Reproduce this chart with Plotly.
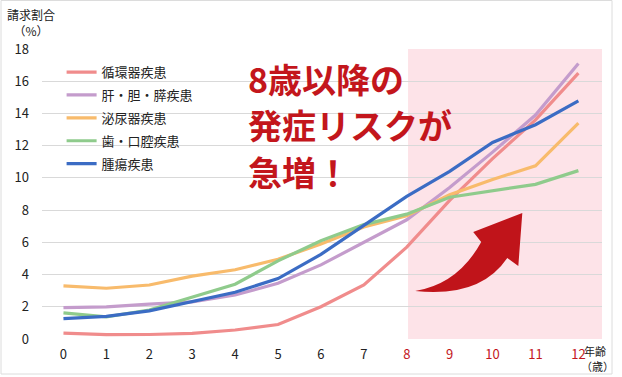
import plotly.graph_objects as go

ages = list(range(13))
age_labels = [str(a) for a in ages]

circulatory = [0.37, 0.27, 0.28, 0.35, 0.56, 0.9, 2.0, 3.35, 5.7, 8.6, 11.2, 13.6, 16.5]
liver = [1.95, 2.0, 2.17, 2.3, 2.73, 3.46, 4.6, 6.0, 7.4, 9.4, 11.6, 13.9, 17.1]
urinary = [3.3, 3.15, 3.35, 3.9, 4.3, 4.95, 5.9, 6.95, 7.65, 8.95, 9.9, 10.75, 13.4]
dental = [1.62, 1.38, 1.8, 2.62, 3.4, 4.85, 6.1, 7.1, 7.75, 8.8, 9.2, 9.6, 10.45]
tumor = [1.26, 1.4, 1.75, 2.32, 2.9, 3.75, 5.25, 7.05, 8.85, 10.4, 12.2, 13.3, 14.78]

series_names = ["循環器疾患", "肝・胆・膵疾患", "泌尿器疾患", "歯・口腔疾患", "腫瘍疾患"]
series_values = [circulatory, liver, urinary, dental, tumor]
series_colors = ["#f08c8c", "#c49ccc", "#f8bb6c", "#8fcb8c", "#3b6cc4"]

y_ticks = list(range(0, 19, 2))

RED = "#c3161c"
FONT = "Noto Sans CJK JP"

fig = go.Figure()
for i, (name, vals, col) in enumerate(zip(series_names, series_values, series_colors)):
    fig.add_trace(go.Scatter(
        x=ages, y=vals, name=name, mode="lines",
        line=dict(color=col, width=3.2),
        legendgroup=f"g{i}",
    ))

# highlighted region from age 8
fig.add_shape(type="rect", xref="x", yref="y", x0=8.03, x1=12.55, y0=0, y1=18,
              fillcolor="#fde3e8", line_width=0, layer="below")

# curved arrow
arrow_path = ("M 8.195,2.979 Q 9.198,3.414 9.735,6.021 L 9.549,6.641 L 10.693,7.821 "
              "L 10.600,4.531 L 10.343,5.028 Q 9.712,2.545 8.195,2.979 Z")
fig.add_shape(type="path", xref="x", yref="y", path=arrow_path,
              fillcolor="#c0141a", line_width=0, layer="above")

# frame
fig.add_shape(type="rect", xref="paper", yref="paper",
              x0=-41/560, x1=(612-42)/560, y0=(339-374)/290, y1=(339-0.5)/290,
              line=dict(color="#dcdcdc", width=1), fillcolor="rgba(0,0,0,0)", layer="below")

tick_text = [a if int(a) < 8 else f'<span style="color:{RED}">{a}</span>' for a in age_labels]

fig.update_layout(
    width=622, height=377,
    margin=dict(l=42, r=20, t=49, b=38),
    paper_bgcolor="white", plot_bgcolor="white",
    font=dict(family=FONT, color="#222", size=13),
    showlegend=True,
    legend=dict(x=0.035, y=0.972, xanchor="left", yanchor="top",
                bgcolor="rgba(0,0,0,0)", font=dict(size=13, family=FONT, color="#222"),
                tracegroupgap=3, traceorder="grouped", itemwidth=30),
    xaxis=dict(range=[-0.5, 12.55], tickvals=ages, ticktext=tick_text,
               showgrid=False, zeroline=False, showline=False,
               tickfont=dict(size=13, family=FONT), ticks="", ticklabelstandoff=6),
    yaxis=dict(range=[0, 18], tickvals=y_ticks, showgrid=True, gridcolor="#d9d9d9",
               gridwidth=1, zeroline=False, showline=False, ticks="",
               tickfont=dict(size=13, family=FONT), ticklabelstandoff=12),
)

# y-axis title
fig.add_annotation(xref="paper", yref="paper", x=-37/560, y=(339-4)/290,
                   xanchor="left", yanchor="top", showarrow=False, align="center",
                   text="請求割合<br>（%）", font=dict(size=12, family=FONT, color="#222"))
# x-axis title (two lines)
fig.add_annotation(xref="paper", yref="paper", x=(595-42)/560, y=(339-351)/290,
                   xanchor="center", yanchor="middle", showarrow=False,
                   text="年齢", font=dict(size=11, family=FONT, color="#222"))
fig.add_annotation(xref="paper", yref="paper", x=(597-42)/560, y=(339-366)/290,
                   xanchor="center", yanchor="middle", showarrow=False,
                   text="（歳）", font=dict(size=11, family=FONT, color="#222"))

# headline text
for txt, yc in [("8歳以降の", 16.2), ("発症リスクが", 13.3), ("急増！", 10.37)]:
    fig.add_annotation(xref="x", yref="y", x=(246-64)/42.833, y=yc,
                       xanchor="left", yanchor="middle", showarrow=False,
                       text=f"<b>{txt}</b>", font=dict(size=34, family=FONT, color=RED))

fig.write_html("out.html", config={"displayModeBar": False},
               post_script="document.body.style.margin='0';")
